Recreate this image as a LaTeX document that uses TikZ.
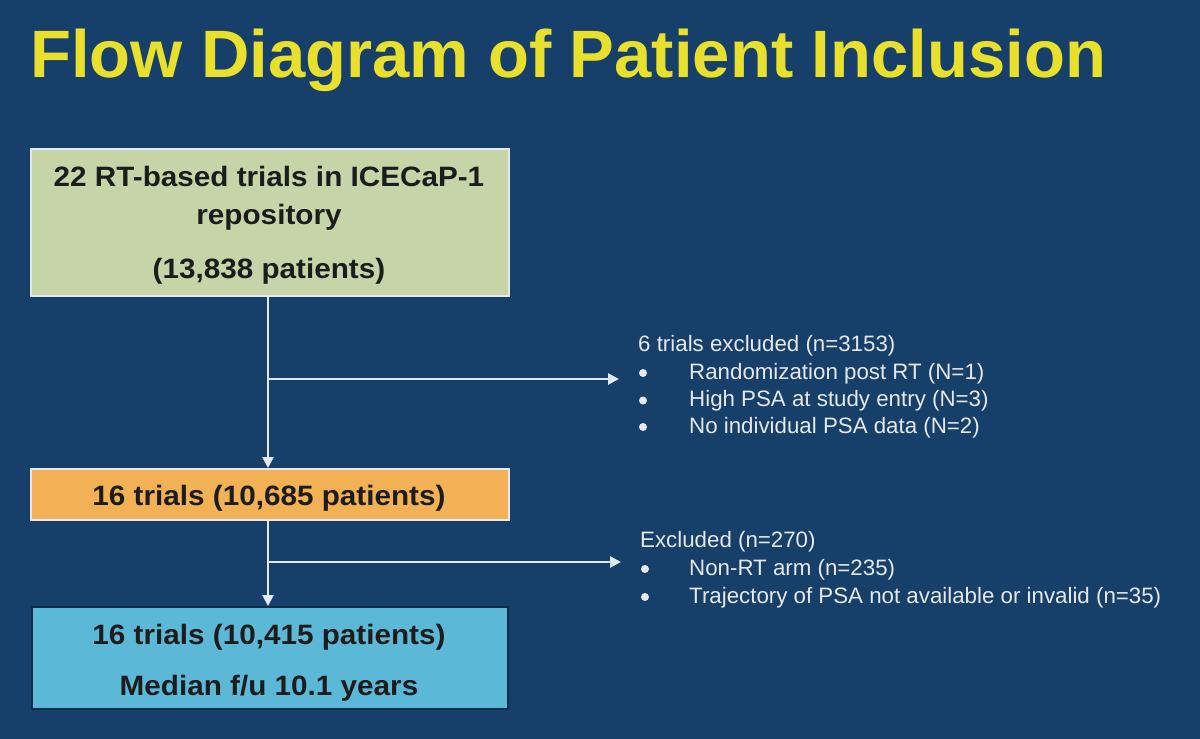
\documentclass[tikz,border=0pt]{standalone}
\usepackage{fontspec}
\setmainfont{Liberation Sans}
\newfontfamily\boxfont[FakeStretch=1.06]{Liberation Sans}
\usetikzlibrary{arrows.meta}
\definecolor{bgnavy}{HTML}{163F69}
\definecolor{titleyellow}{HTML}{E8E02C}
\definecolor{greenfill}{HTML}{C6D5A8}
\definecolor{orangefill}{HTML}{F2B154}
\definecolor{bluefill}{HTML}{5CB8D7}
\definecolor{boxtext}{HTML}{1C1C1C}
\definecolor{linecol}{HTML}{E4E9EF}
\definecolor{exctext}{HTML}{E6E8EC}
\tikzset{
  flowbox/.style={draw=#1, line width=1.5pt, inner sep=0pt, anchor=north west},
  boxtxt/.style={anchor=base, inner sep=0pt, text=boxtext, font=\boxfont\bfseries\fontsize{28}{30}\selectfont},
  exctxt/.style={anchor=base west, inner sep=0pt, text=exctext, font=\fontsize{22.3}{26}\selectfont},
  bulletdot/.style={circle, fill=exctext, draw=none, minimum size=8pt, inner sep=0pt},
  conn/.style={draw=linecol, line width=2.6pt, -{Triangle[length=11pt,width=11pt]}},
}
\begin{document}
\begin{tikzpicture}[x=1pt,y=-1pt]
\useasboundingbox (0,0) rectangle (1200,739);
\fill[bgnavy] (0,0) rectangle (1200,739);
% title
\node[anchor=base west, inner sep=0pt, text=titleyellow, font=\bfseries\fontsize{67}{70}\selectfont] (title) at (30,77) {Flow Diagram of Patient Inclusion};
% boxes
\node[flowbox=linecol, fill=greenfill, minimum width=478pt, minimum height=147pt] (g) at (30,148) {};
\node[flowbox=linecol, fill=orangefill, minimum width=478pt, minimum height=51pt] (o) at (30,468) {};
\node[flowbox=bgnavy!70!black, fill=bluefill, minimum width=476pt, minimum height=102pt] (b) at (31,606) {};
% box texts
\node[boxtxt] (g1) at (269,186) {22 RT-based trials in ICECaP-1};
\node[boxtxt] (g2) at (269,224) {repository};
\node[boxtxt] (g3) at (269,278) {(13,838 patients)};
\node[boxtxt] (o1) at (269,505) {16 trials (10,685 patients)};
\node[boxtxt] (b1) at (269,644) {16 trials (10,415 patients)};
\node[boxtxt] (b2) at (269,695) {Median f/u 10.1 years};
% connectors
\coordinate (br1) at (268,379);
\coordinate (end1) at (619,379);
\coordinate (br2) at (268,562);
\coordinate (end2) at (621,562);
\draw[conn] (g.south -| br1) -- (o.north -| br1);
\draw[conn] (o.south -| br2) -- (b.north -| br2);
\draw[conn] (br1) -- (end1);
\draw[conn] (br2) -- (end2);
% exclusion texts
\node[exctxt] (e1) at (638,351) {6 trials excluded (n=3153)};
\node[bulletdot] (e1b1) at (643,373) {};
\node[exctxt] (e1t1) at (689,379) {Randomization post RT (N=1)};
\node[bulletdot] (e1b2) at (643,400.5) {};
\node[exctxt] (e1t2) at (689,406.5) {High PSA at study entry (N=3)};
\node[bulletdot] (e1b3) at (643,427) {};
\node[exctxt] (e1t3) at (689,433) {No individual PSA data (N=2)};
\node[exctxt] (e2) at (640,547) {Excluded (n=270)};
\node[bulletdot] (e2b1) at (645,569) {};
\node[exctxt] (e2t1) at (689,575) {Non-RT arm (n=235)};
\node[bulletdot] (e2b2) at (645,597) {};
\node[exctxt] (e2t2) at (689,603) {Trajectory of PSA not available or invalid (n=35)};
\end{tikzpicture}
\end{document}
